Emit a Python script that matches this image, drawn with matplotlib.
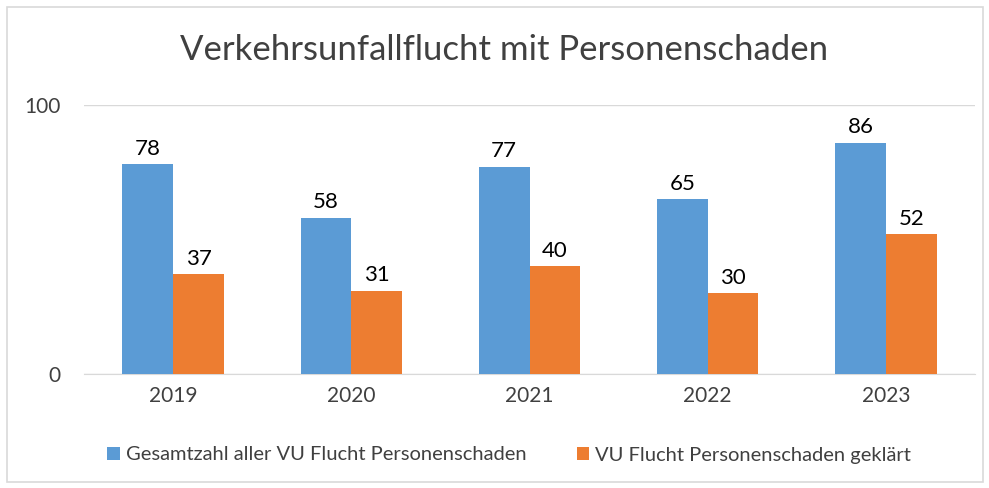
import numpy as np
import matplotlib.pyplot as plt
from matplotlib.patches import Rectangle

plt.rcParams['font.family'] = ['Lato', 'DejaVu Sans']

years = ['2019', '2020', '2021', '2022', '2023']
gesamt = [78, 58, 77, 65, 86]
geklaert = [37, 31, 40, 30, 52]
labels = ['Gesamtzahl aller VU Flucht Personenschaden', 'VU Flucht Personenschaden geklärt']

blue = '#5b9bd5'
orange = '#ed7d31'
text_col = '#404040'

fig = plt.figure(figsize=[9.89, 4.88], dpi=100)
ax = fig.add_axes([84 / 989, 1 - 374 / 488, 891 / 989, 269 / 488])

x = np.arange(len(years))
w = 0.285
b1 = ax.bar(x - w / 2, gesamt, w, color=blue, label=labels[0], zorder=3)
b2 = ax.bar(x + w / 2, geklaert, w, color=orange, label=labels[1], zorder=3)

for bars in (b1, b2):
    ax.bar_label(bars, padding=4, fontsize=16, color='black')

ax.set_xlim(-0.5, len(years) - 0.5)
ax.set_ylim(0, 100)
ax.set_yticks([0, 100])
ax.set_xticks(x)
ax.set_xticklabels(years)
ax.tick_params(axis='both', length=0, labelsize=15, colors=text_col)
ax.tick_params(axis='y', pad=17)
ax.tick_params(axis='x', pad=9)
ax.grid(axis='y', color='#d9d9d9', linewidth=1, zorder=0)
for s in ['top', 'right', 'left']:
    ax.spines[s].set_visible(False)
ax.spines['bottom'].set_color('#d9d9d9')

fig.text(504 / 989, 1 - 50 / 488, 'Verkehrsunfallflucht mit Personenschaden',
         ha='center', va='center', fontsize=25, color=text_col)

fig.legend(loc='center', bbox_to_anchor=(509 / 989, 1 - 455 / 488), ncol=2, frameon=False,
           fontsize=14.5, handlelength=0.6, handleheight=0.6, handletextpad=0.3,
           columnspacing=2.5, labelcolor=text_col)

fig.patches.append(Rectangle((7 / 989, 6 / 488), 976 / 989, 475 / 488, transform=fig.transFigure,
                             fill=False, edgecolor='#d9d9d9', linewidth=1.2))

plt.savefig('out.png', dpi=100)
